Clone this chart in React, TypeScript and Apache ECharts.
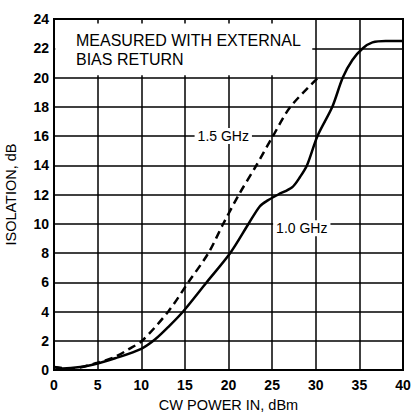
import React, { useEffect, useRef } from "react";
import * as echarts from "echarts";

const xTicks = [0, 5, 10, 15, 20, 25, 30, 35, 40];
const yTicks = [0, 2, 4, 6, 8, 10, 12, 14, 16, 18, 20, 22, 24];

const solid1GHzX = [0, 1, 3, 5, 7, 10, 11.6, 13.2, 14.8, 17.5, 20.2, 22.3, 23.6, 24.5, 25.7, 27.3, 28.2, 29, 30.2, 31.9, 33.1, 34.2, 35.4, 36.5, 38, 40];
const solid1GHzY = [0.2, 0.1, 0.2, 0.45, 0.8, 1.45, 2.1, 3.0, 4, 6, 8, 10, 11.2, 11.6, 12.0, 12.5, 13.2, 14, 16, 18, 20, 21.2, 22, 22.4, 22.5, 22.5];

const dashed15GHzX = [0, 2, 5, 7, 8.5, 10.1, 13.1, 15.4, 17.7, 19.4, 21.2, 23.2, 25.1, 27.1, 30.3];
const dashed15GHzY = [0.2, 0.1, 0.5, 0.9, 1.4, 2.0, 4, 6, 8, 10, 12, 14, 16, 18, 20];

const seriesNames = ["1.0 GHz", "1.5 GHz"];
const noteLines = ["MEASURED WITH EXTERNAL", "BIAS RETURN"];
const xName = "CW POWER IN, dBm";
const yName = "ISOLATION, dB";

const FONT = "Liberation Sans";

export default function App() {
  const ref = useRef<HTMLDivElement>(null);
  useEffect(() => {
    if (!ref.current) return;
    const chart = echarts.init(ref.current, null, { renderer: "svg" });
    const zip = (xs: number[], ys: number[]) => xs.map((x, i) => [x, ys[i]]);
    chart.setOption({
      animation: false,
      backgroundColor: "#fff",
      grid: {
        left: 54, right: 10, top: 19, bottom: 44,
        containLabel: false,
        outerBoundsMode: "none",
        show: true, borderColor: "#000", borderWidth: 2, backgroundColor: "transparent",
      },
      xAxis: {
        type: "value",
        min: xTicks[0],
        max: xTicks[xTicks.length - 1],
        interval: 5,
        name: xName,
        nameLocation: "middle",
        nameGap: 27,
        nameTextStyle: { fontFamily: FONT, fontSize: 14.5, color: "#000" },
        axisLine: { show: true, lineStyle: { color: "#000", width: 2 } },
        axisTick: { show: false },
        axisLabel: { fontFamily: FONT, fontWeight: "bold", fontSize: 14, color: "#000", margin: 8 },
        splitLine: { show: true, lineStyle: { color: "#000", width: 1.5 } },
      },
      yAxis: {
        type: "value",
        min: yTicks[0],
        max: yTicks[yTicks.length - 1],
        interval: 2,
        name: yName,
        nameLocation: "middle",
        nameGap: 36,
        nameRotate: 90,
        nameTextStyle: { fontFamily: FONT, fontSize: 14.5, color: "#000" },
        axisLine: { show: true, lineStyle: { color: "#000", width: 2 } },
        axisTick: { show: false },
        axisLabel: { fontFamily: FONT, fontWeight: "bold", fontSize: 14, color: "#000", margin: 5 },
        splitLine: { show: true, lineStyle: { color: "#000", width: 1.5 } },
      },
      series: [
        {
          name: seriesNames[0],
          type: "line",
          data: zip(solid1GHzX, solid1GHzY),
          smooth: 0.3,
          showSymbol: false,
          lineStyle: { color: "#000", width: 2.5 },
          z: 3,
          markArea: {
            silent: true,
            itemStyle: { color: "#fff", opacity: 1 },
            data: [[{ coord: [0.15, 20.15] }, { coord: [29.6, 23.7] }]],
            z: 1,
          },
          markPoint: {
            silent: true,
            symbol: "rect",
            symbolSize: 0,
            data: [
              { coord: [28.4, 9.7], name: seriesNames[0] },
              { coord: [19.4, 16], name: seriesNames[1] },
            ],
            label: {
              show: true,
              position: "inside",
              formatter: (p: any) => p.name,
              fontFamily: FONT,
              fontSize: 14,
              color: "#000",
              backgroundColor: "#fff",
              padding: [1, 3],
            },
          },
        },
        {
          name: seriesNames[1],
          type: "line",
          data: zip(dashed15GHzX, dashed15GHzY),
          smooth: 0.3,
          showSymbol: false,
          lineStyle: { color: "#000", width: 2.5, type: [8, 5] },
          z: 3,
        },
      ],
      graphic: [
        {
          type: "text",
          left: 76,
          top: 31,
          z: 100,
          style: {
            text: noteLines.join("\n"),
            fontFamily: FONT,
            fontSize: 16,
            lineHeight: 19,
            fill: "#000",
          },
        },
      ],
    });
    return () => chart.dispose();
  }, []);
  return <div ref={ref} style={{ width: 413, height: 414, position: "absolute", left: 0, top: 0 }} />;
}
